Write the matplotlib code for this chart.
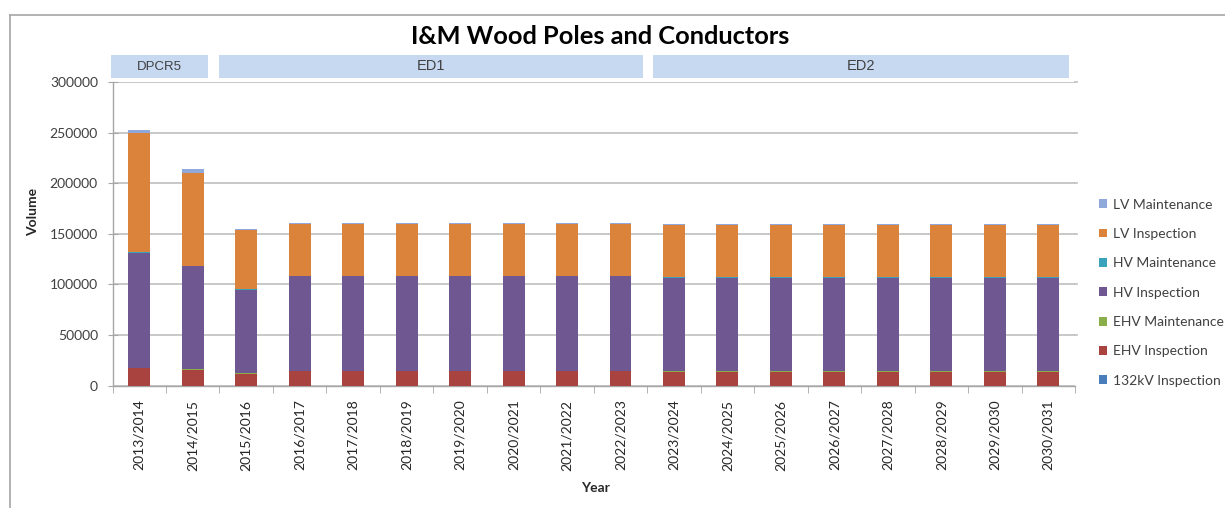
import matplotlib
matplotlib.use("Agg")
import matplotlib.pyplot as plt
from matplotlib.lines import Line2D
from matplotlib.patches import Rectangle, Patch
import numpy as np

# ---- data -----------------------------------------------------------------
years = ["2013/2014", "2014/2015", "2015/2016", "2016/2017", "2017/2018",
         "2018/2019", "2019/2020", "2020/2021", "2021/2022", "2022/2023",
         "2023/2024", "2024/2025", "2025/2026", "2026/2027", "2027/2028",
         "2028/2029", "2029/2030", "2030/2031"]

kv132_inspection = [0] * 18
ehv_inspection = [17500, 16000, 11800] + [14500] * 7 + [13500] * 8
ehv_maintenance = [300, 300, 1200] + [200] * 7 + [1000] * 8
hv_inspection = [113500, 101500, 82000] + [93600] * 7 + [92200] * 8
hv_maintenance = [1000, 800, 800] + [200] * 7 + [200] * 8
lv_inspection = [117700, 91900, 57800] + [51000] * 7 + [52000] * 8
lv_maintenance = [3000, 3500, 1300] + [1500] * 7 + [1200] * 8

series_names = ["132kV Inspection", "EHV Inspection", "EHV Maintenance",
                "HV Inspection", "HV Maintenance", "LV Inspection",
                "LV Maintenance"]
series_values = [kv132_inspection, ehv_inspection, ehv_maintenance,
                 hv_inspection, hv_maintenance, lv_inspection, lv_maintenance]
series_colors = ["#4A7EBB", "#A9433F", "#8AAE4A", "#6F5891", "#3AA3BC",
                 "#DB833B", "#8FAADA"]

periods = ["DPCR5", "ED1", "ED2"]
# banner spans in figure pixels (left, right)
period_spans = [(111, 208), (219, 643), (653, 1069)]

yticks = [0, 50000, 100000, 150000, 200000, 250000, 300000]

# ---- figure ---------------------------------------------------------------
W, H = 1225, 508
fig = plt.figure(figsize=(W / 100, H / 100), dpi=100)
plt.rcParams["font.family"] = ["Lato", "DejaVu Sans"]

def fx(px):
    return px / W

def fy(py):
    return 1 - py / H

ax_left, ax_right, ax_top, ax_bot = 112.5, 1075, 82, 385.7
ax = fig.add_axes([fx(ax_left), fy(ax_bot), fx(ax_right - ax_left),
                   fy(ax_top) - fy(ax_bot)])

x = np.arange(len(years))
bottom = np.zeros(len(years))
for name, vals, col in zip(series_names, series_values, series_colors):
    vals = np.asarray(vals, dtype=float)
    ax.bar(x, vals, width=0.41, bottom=bottom, color=col, label=name,
           edgecolor="none", zorder=3)
    bottom += vals

ax.set_xlim(-0.5, len(years) - 0.5)
ax.set_ylim(0, 300000)
ax.set_yticks(yticks)
ax.set_yticklabels([str(v) for v in yticks], fontsize=10, color="#404040")
ax.set_xticks(x)
ax.set_xticklabels(years, rotation=90, fontsize=10, color="#262626")
ax.tick_params(axis="x", length=0, pad=10)
ax.tick_params(axis="y", direction="inout", length=7, color="#A6A6A6", pad=7)

# category separator ticks on the x axis
ax.set_xticks(np.arange(-0.5, len(years)), minor=True)
ax.tick_params(axis="x", which="minor", direction="out", length=5,
               color="#A6A6A6")

ax.grid(axis="y", color="#BFBFBF", linewidth=1.2, zorder=0)
for side in ["top", "right"]:
    ax.spines[side].set_visible(False)
ax.spines["left"].set_color("#A6A6A6")
ax.spines["bottom"].set_color("#A6A6A6")
ax.spines["left"].set_linewidth(1.0)
ax.spines["bottom"].set_linewidth(1.0)

# gridlines extend slightly past the last category
for v in yticks[1:]:
    yy = fy(ax_bot) + (fy(ax_top) - fy(ax_bot)) * v / 300000
    fig.add_artist(Line2D([fx(ax_right), fx(1077)], [yy, yy],
                          color="#BFBFBF", linewidth=1.2))

# axis titles
fig.text(fx(595), fy(488), "Year", ha="center", va="center",
         fontsize=10, fontweight="bold", color="#262626")
fig.text(fx(33), fy(212), "Volume", ha="center", va="center", rotation=90,
         fontsize=10, fontweight="bold", color="#262626")

# chart title
fig.text(fx(600), fy(36), "I&M Wood Poles and Conductors", ha="center",
         va="center", fontsize=18.3, fontweight="bold", color="#000000")

# period banners
for name, (l, r) in zip(periods, period_spans):
    fig.add_artist(Rectangle((fx(l), fy(78)), fx(r - l), fy(55) - fy(78),
                             facecolor="#C6D9F1", edgecolor="none"))
    fig.text(fx((l + r) / 2), fy(66.5), name, ha="center", va="center",
             fontsize=9.5 if name == "DPCR5" else 10.5, color="#404040",
             family=["Liberation Sans", "DejaVu Sans"])

# legend
handles = [Patch(facecolor=c, edgecolor="none") for c in series_colors][::-1]
leg = fig.legend(handles, series_names[::-1], loc="upper left",
                 bbox_to_anchor=(fx(1093), fy(193)), frameon=False,
                 fontsize=10, handlelength=0.6, handleheight=0.6,
                 handletextpad=0.45, labelspacing=1.25, borderaxespad=0)
for t in leg.get_texts():
    t.set_color("#404040")

# outer frame
fig.add_artist(Line2D([fx(10), fx(10)], [fy(15), 0], color="#A6A6A6",
                      linewidth=1.2))
fig.add_artist(Line2D([fx(10), 1], [fy(15), fy(15)], color="#A6A6A6",
                      linewidth=1.2))

fig.savefig("out.png", dpi=100)
